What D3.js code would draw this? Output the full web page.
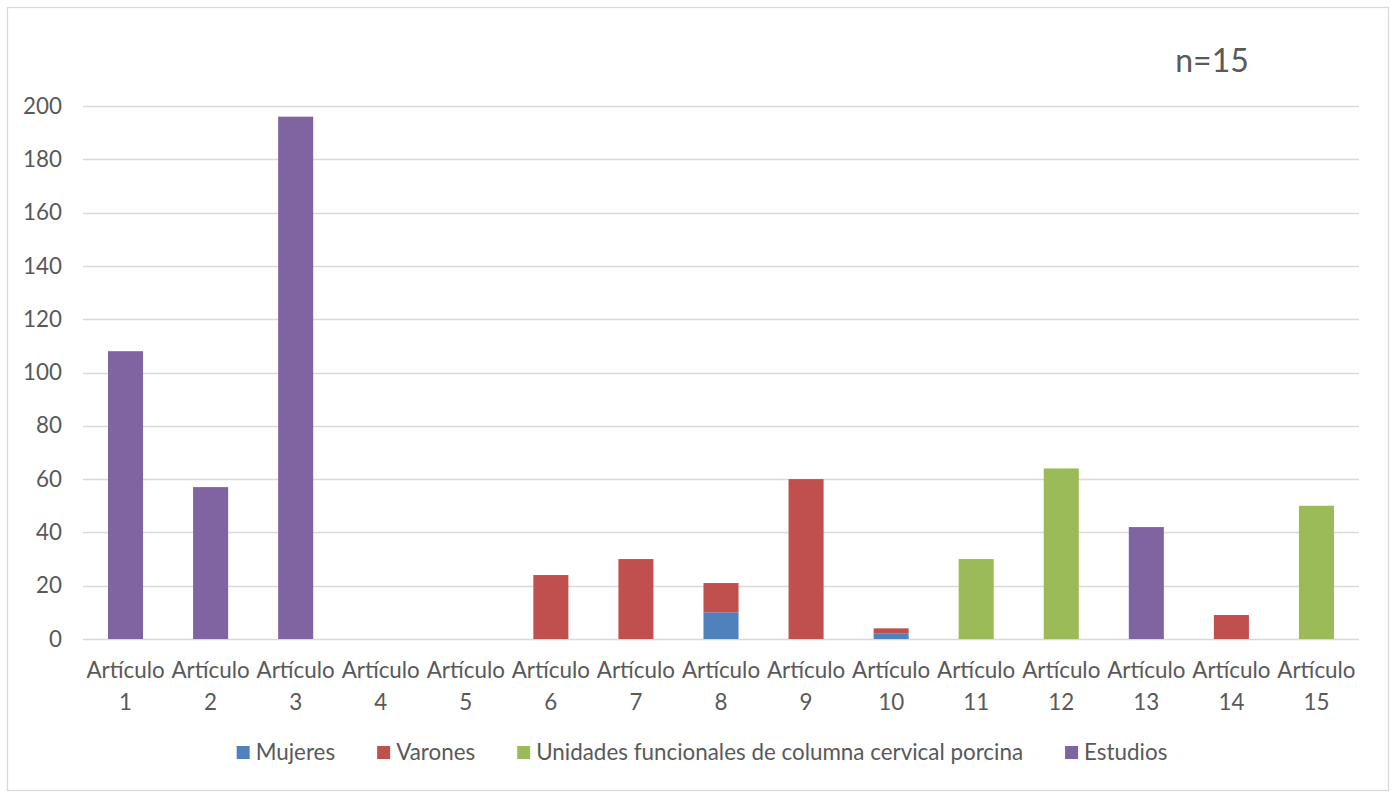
<!DOCTYPE html>
<html>
<head>
<meta charset="utf-8">
<script src="https://cdn.jsdelivr.net/npm/d3@7"></script>
<style>
  html, body { margin: 0; padding: 0; background: #fff; }
  svg { display: block; }
  text { font-family: Lato, "Open Sans", sans-serif; fill: #595959; }
</style>
</head>
<body>
<svg id="chart" width="1397" height="794"></svg>
<script>
// Categories and series values
const categories = ["Artículo 1","Artículo 2","Artículo 3","Artículo 4","Artículo 5",
  "Artículo 6","Artículo 7","Artículo 8","Artículo 9","Artículo 10",
  "Artículo 11","Artículo 12","Artículo 13","Artículo 14","Artículo 15"];
const mujeres   = [0, 0, 0, 0, 0, 0, 0, 10, 0, 2, 0, 0, 0, 0, 0];
const varones   = [0, 0, 0, 0, 0, 24, 30, 11, 60, 2, 0, 0, 0, 9, 0];
const unidades  = [0, 0, 0, 0, 0, 0, 0, 0, 0, 0, 30, 64, 0, 0, 50];
const estudios  = [108, 57, 196, 0, 0, 0, 0, 0, 0, 0, 0, 0, 42, 0, 0];
const seriesNames = ["Mujeres", "Varones", "Unidades funcionales de columna cervical porcina", "Estudios"];
const seriesColors = ["#4F81BD", "#C0504D", "#9BBB59", "#8064A2"];
const yTicks = [0, 20, 40, 60, 80, 100, 120, 140, 160, 180, 200];
const noteText = "n=15";

const labelSize = 22.4;
const svg = d3.select("#chart");

// outer chart frame
svg.append("rect")
  .attr("x", 7.5).attr("y", 7.5).attr("width", 1381).attr("height", 783)
  .attr("fill", "#fff").attr("stroke", "#d9d9d9").attr("stroke-width", 1.3);

const plot = { left: 83, right: 1359, top: 106, bottom: 639 };

const x = d3.scaleBand()
  .domain(categories)
  .range([plot.left, plot.right])
  .paddingInner(0.588)
  .paddingOuter(0.294);

const y = d3.scaleLinear()
  .domain([0, 200])
  .range([plot.bottom, plot.top]);

// gridlines
svg.append("g")
  .selectAll("line")
  .data(yTicks)
  .join("line")
  .attr("x1", plot.left).attr("x2", plot.right)
  .attr("y1", d => Math.round(y(d)) + 0.5).attr("y2", d => Math.round(y(d)) + 0.5)
  .attr("stroke", "#d9d9d9").attr("stroke-width", 1.3);

// y-axis labels
const yAxis = d3.axisLeft(y).tickValues(yTicks).tickSize(0).tickPadding(0);
const yg = svg.append("g")
  .attr("transform", `translate(${plot.left - 21},0)`)
  .call(yAxis);
yg.select(".domain").remove();
yg.selectAll("text")
  .attr("font-size", labelSize)
  .attr("font-family", "Lato, sans-serif")
  .attr("fill", "#595959");

// stacked bars
const table = categories.map((c, i) => ({
  cat: c,
  [seriesNames[0]]: mujeres[i],
  [seriesNames[1]]: varones[i],
  [seriesNames[2]]: unidades[i],
  [seriesNames[3]]: estudios[i]
}));
const stacked = d3.stack().keys(seriesNames)(table);

svg.append("g")
  .selectAll("g")
  .data(stacked)
  .join("g")
  .attr("fill", (d, i) => seriesColors[i])
  .selectAll("rect")
  .data(d => d.filter(p => p[1] - p[0] > 0))
  .join("rect")
  .attr("x", d => x(d.data.cat))
  .attr("width", x.bandwidth())
  .attr("y", d => y(d[1]))
  .attr("height", d => y(d[0]) - y(d[1]));

// category labels on two lines
const xg = svg.append("g");
categories.forEach(c => {
  const parts = c.split(" ");
  const cx = x(c) + x.bandwidth() / 2;
  const t = xg.append("text")
    .attr("text-anchor", "middle")
    .attr("font-size", labelSize);
  t.append("tspan").attr("x", cx).attr("y", 678).text(parts[0]);
  t.append("tspan").attr("x", cx).attr("y", 710).text(parts[1]);
});

// legend
const legend = svg.append("g");
const items = seriesNames.map((name, i) => {
  const g = legend.append("g");
  g.append("rect").attr("width", 13).attr("height", 13).attr("y", -14).attr("fill", seriesColors[i]);
  const t = g.append("text").attr("x", 19).attr("y", 0).attr("font-size", labelSize).text(name);
  return { g, w: 19 + t.node().getComputedTextLength() };
});
const gap = 42;
const total = d3.sum(items, d => d.w) + gap * (items.length - 1);
let lx = 702 - total / 2;
items.forEach(it => {
  it.g.attr("transform", `translate(${lx},${760})`);
  lx += it.w + gap;
});

// sample size note
svg.append("text")
  .attr("x", 1212).attr("y", 72)
  .attr("text-anchor", "middle")
  .attr("font-size", 32)
  .attr("fill", "#404040")
  .text(noteText);
</script>
</body>
</html>
